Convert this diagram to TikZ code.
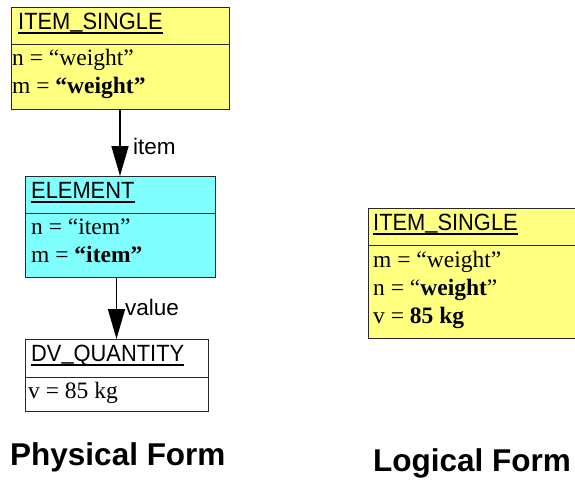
\documentclass[tikz,border=0pt]{standalone}
\usepackage{fontspec}
\setmainfont{Liberation Serif}
\setsansfont{Liberation Sans}
\newfontfamily\titlefont[FakeStretch=0.93]{Liberation Sans}
\newcommand\usc{\raisebox{2.4pt}{\_}}
\usetikzlibrary{arrows.meta}
\definecolor{boxyellow}{RGB}{255,255,128}
\definecolor{boxcyan}{RGB}{128,255,255}
\definecolor{edge}{RGB}{40,40,40}
\tikzset{
 box/.style={draw=edge, line width=1pt, anchor=north west, inner sep=0pt, outer sep=0pt},
 ttl/.style={anchor=base west, inner sep=0pt, font=\titlefont\fontsize{23.5}{27}\selectfont},
 body/.style={anchor=base west, inner sep=0pt, font=\rmfamily\fontsize{23.5}{28}\selectfont},
 lbl/.style={anchor=base west, inner sep=0pt, font=\sffamily\fontsize{22.5}{27}\selectfont},
 form/.style={anchor=base west, inner sep=0pt, font=\sffamily\bfseries\fontsize{31.5}{36}\selectfont},
 arr/.style={line width=1.6pt, -{Triangle[length=30pt,width=17pt]}},
 ul/.style={line width=2pt},
 divider/.style={draw=edge, line width=1pt}
}
\begin{document}
\begin{tikzpicture}[x=1pt,y=-1pt]
\useasboundingbox (0,0) rectangle (575,479);
% Box A
\node[box, fill=boxyellow, minimum width=218pt, minimum height=102pt] (A) at (11,7) {};
\draw[divider] ([yshift=-37pt]A.north west) -- ([yshift=-37pt]A.north east);
\node[ttl] (At) at (18,29.5) {ITEM\usc SINGLE};
\draw[ul] ([yshift=-3.6pt]At.base west) -- ([yshift=-3.6pt]At.base east);
\node[body] (An) at (12,65) {n = “weight”};
\node[body] (Am) at (12,93) {m = \textbf{“weight”}};
% Box B
\node[box, fill=boxcyan, minimum width=190pt, minimum height=101pt] (B) at (25,176) {};
\draw[divider] ([yshift=-37pt]B.north west) -- ([yshift=-37pt]B.north east);
\node[ttl] (Bt) at (31,198.5) {ELEMENT};
\draw[ul] ([yshift=-3.6pt]Bt.base west) -- ([yshift=-3.6pt]Bt.base east);
\node[body] (Bn) at (31,234) {n = “item”};
\node[body] (Bm) at (31,262) {m = \textbf{“item”}};
% Box C
\node[box, fill=white, minimum width=183pt, minimum height=72pt] (C) at (25,339) {};
\draw[divider] ([yshift=-38pt]C.north west) -- ([yshift=-38pt]C.north east);
\node[ttl] (Ct) at (31,361.5) {DV\usc QUANTITY};
\draw[ul] ([yshift=-3.6pt]Ct.base west) -- ([yshift=-3.6pt]Ct.base east);
\node[body] (Cv) at (28,398) {v = 85 kg};
% Box D
\node[box, fill=boxyellow, minimum width=215pt, minimum height=130pt] (D) at (368,208) {};
\draw[divider] ([yshift=-37pt]D.north west) -- ([yshift=-37pt]D.north east);
\node[ttl] (Dt) at (373,230.5) {ITEM\usc SINGLE};
\draw[ul] ([yshift=-3.6pt]Dt.base west) -- ([yshift=-3.6pt]Dt.base east);
\node[body] (Dm) at (373,267) {m = “weight”};
\node[body] (Dn) at (373,295) {n = “\textbf{weight}”};
\node[body] (Dv) at (373,323) {v = \textbf{85 kg}};
% connectors
\draw[arr] (A.south) -- (B.north);
\draw[arr] (B.south -| C.north) -- (C.north);
\node[lbl] (l1) at (133,154) {item};
\node[lbl] (l2) at (125,315) {value};
% captions
\node[form] (pf) at (10,465) {Physical Form};
\node[form] (lf) at (373,471) {Logical Form};
\end{tikzpicture}
\end{document}
